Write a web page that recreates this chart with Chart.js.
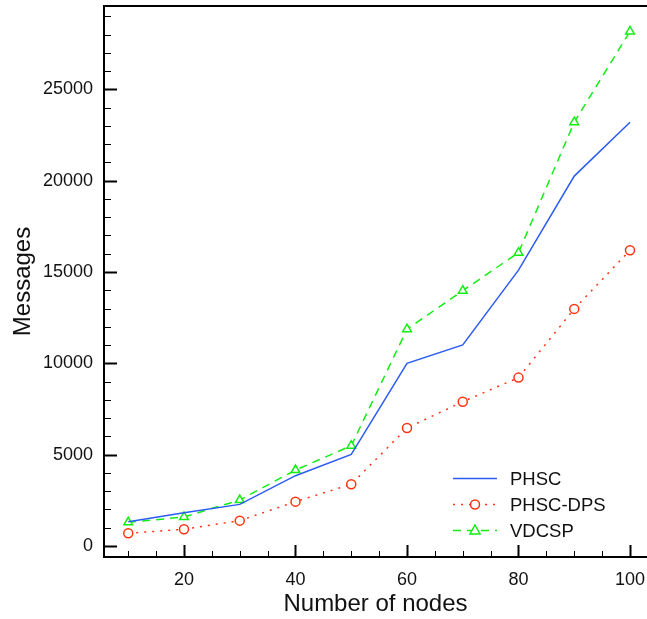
<!DOCTYPE html>
<html>
<head>
<meta charset="utf-8">
<script src="https://cdn.jsdelivr.net/npm/chart.js@4/dist/chart.umd.min.js"></script>
<style>
  html, body { margin: 0; padding: 0; background: #fff; }
  #wrap { width: 647px; height: 619px; }
</style>
</head>
<body>
<div id="wrap"><canvas id="msgChart" width="647" height="619"></canvas></div>
<script>
// data
const nodes = [10, 20, 30, 40, 50, 60, 70, 80, 90, 100];
const phsc = [1330, 1820, 2280, 3850, 5020, 10000, 11010, 15100, 20250, 23200];
const phscDps = [700, 920, 1390, 2430, 3380, 6460, 7900, 9220, 12980, 16190];
const vdcsp = [1300, 1590, 2520, 4160, 5490, 11870, 13980, 16060, 23200, 28170];

const seriesNames = ["PHSC", "PHSC-DPS", "VDCSP"];
const xTickLabels = [20, 40, 60, 80, 100];
const yTickLabels = [0, 5000, 10000, 15000, 20000, 25000];

const FONT = "'Liberation Sans', Arial, Helvetica, sans-serif";

function toPoints(values) {
    return nodes.map(function(n, i) {
        return { x: n, y: values[i] };
    });
}

// inward tick marks, drawn through the scales
const innerTicks = {
    id: "innerTicks",
    afterDraw: function(chart) {
        const ctx = chart.ctx;
        const xs = chart.scales.x;
        const ys = chart.scales.y;
        const area = chart.chartArea;
        ctx.save();
        ctx.strokeStyle = "#000";

        for (let v = 0; v <= 29000; v += 1000) {
            const py = Math.round(ys.getPixelForValue(v)) + 0.5;
            const major = v % 5000 === 0;
            ctx.lineWidth = major ? 2 : 1;
            ctx.beginPath();
            ctx.moveTo(area.left, py);
            ctx.lineTo(area.left + (major ? 13 : 7), py);
            ctx.stroke();
        }

        for (let v = 10; v <= 100; v += 5) {
            const px = Math.round(xs.getPixelForValue(v)) + 0.5;
            const major = v % 20 === 0;
            ctx.lineWidth = major ? 2 : 1;
            ctx.beginPath();
            ctx.moveTo(px, area.bottom);
            ctx.lineTo(px, area.bottom - (major ? 12 : 6));
            ctx.stroke();
        }

        // top frame line
        ctx.lineWidth = 2;
        ctx.beginPath();
        ctx.moveTo(area.left, area.top);
        ctx.lineTo(area.right, area.top);
        ctx.stroke();
        ctx.restore();
    }
};

// legend in the lower right of the plot
const innerLegend = {
    id: "innerLegend",
    afterDraw: function(chart) {
        const ctx = chart.ctx;
        const x0 = 453;
        const x1 = 497;
        const rows = [478, 504, 530];
        ctx.save();
        chart.data.datasets.forEach(function(ds, i) {
            const y = rows[i] + 0.5;
            ctx.strokeStyle = ds.borderColor;
            ctx.lineWidth = ds.borderWidth;
            ctx.setLineDash(ds.borderDash || []);
            ctx.beginPath();
            ctx.moveTo(x0, y);
            ctx.lineTo(x1, y);
            ctx.stroke();
            ctx.setLineDash([]);
            const cx = (x0 + x1) / 2;
            ctx.lineWidth = 1.5;
            if (ds.pointStyle === "circle" && ds.pointRadius > 0) {
                ctx.fillStyle = "#fff";
                ctx.beginPath();
                ctx.arc(cx, y, 4.5, 0, Math.PI * 2);
                ctx.fill();
                ctx.stroke();
            } else if (ds.pointStyle === "triangle") {
                ctx.fillStyle = "#fff";
                ctx.beginPath();
                ctx.moveTo(cx, y - 5.5);
                ctx.lineTo(cx + 5, y + 3.5);
                ctx.lineTo(cx - 5, y + 3.5);
                ctx.closePath();
                ctx.fill();
                ctx.stroke();
            }
            ctx.fillStyle = "#111";
            ctx.font = "18.5px " + FONT;
            ctx.textBaseline = "middle";
            ctx.textAlign = "left";
            ctx.fillText(ds.label, 510, y + 1);
        });
        ctx.restore();
    }
};

const canvas = document.getElementById("msgChart");

new Chart(canvas, {
    type: "line",
    data: {
        datasets: [
            {
                label: seriesNames[0],
                data: toPoints(phsc),
                borderColor: "#2b5cf5",
                borderWidth: 1.5,
                pointRadius: 0,
                pointStyle: "line",
                tension: 0
            },
            {
                label: seriesNames[1],
                data: toPoints(phscDps),
                borderColor: "#ff3311",
                borderWidth: 1.5,
                borderDash: [2, 6],
                pointStyle: "circle",
                pointRadius: 4.5,
                pointBorderWidth: 1.5,
                pointBackgroundColor: "#fff",
                pointBorderColor: "#ff3311",
                tension: 0
            },
            {
                label: seriesNames[2],
                data: toPoints(vdcsp),
                borderColor: "#11ee11",
                borderWidth: 1.5,
                borderDash: [8, 6],
                pointStyle: "triangle",
                pointRadius: 5,
                pointBorderWidth: 1.5,
                pointBackgroundColor: "#fff",
                pointBorderColor: "#11ee11",
                tension: 0
            }
        ]
    },
    options: {
        responsive: false,
        animation: false,
        layout: {
            autoPadding: false,
            padding: { top: 6, right: 0, left: 0, bottom: 0 }
        },
        plugins: {
            legend: { display: false },
            tooltip: { enabled: false }
        },
        scales: {
            x: {
                type: "linear",
                min: 5.65,
                max: 103.05,
                afterBuildTicks: function(scale) {
                    scale.ticks = xTickLabels.map(function(v) {
                        return { value: v };
                    });
                },
                afterFit: function(scale) {
                    scale.height = 62;
                    scale.paddingLeft = 0;
                    scale.paddingRight = 0;
                },
                grid: { display: false },
                border: { display: true, color: "#000", width: 2 },
                ticks: {
                    color: "#111",
                    padding: 4,
                    maxRotation: 0,
                    font: { family: FONT, size: 18 },
                    callback: function(v) {
                        return String(v);
                    }
                },
                title: {
                    display: true,
                    text: "Number of nodes",
                    color: "#111",
                    padding: { top: 0, bottom: 0 },
                    font: { family: FONT, size: 24 }
                }
            },
            y: {
                type: "linear",
                min: -600,
                max: 29560,
                afterBuildTicks: function(scale) {
                    scale.ticks = yTickLabels.map(function(v) {
                        return { value: v };
                    });
                },
                afterFit: function(scale) {
                    scale.width = 104;
                    scale.paddingTop = 0;
                    scale.paddingBottom = 0;
                },
                grid: { display: false },
                border: { display: true, color: "#000", width: 2 },
                ticks: {
                    color: "#111",
                    padding: 3,
                    font: { family: FONT, size: 18 },
                    callback: function(v) {
                        return String(v);
                    }
                },
                title: {
                    display: true,
                    text: "Messages",
                    color: "#111",
                    padding: { top: 9, bottom: 0 },
                    font: { family: FONT, size: 24 }
                }
            }
        }
    },
    plugins: [innerTicks, innerLegend]
});
</script>
</body>
</html>
